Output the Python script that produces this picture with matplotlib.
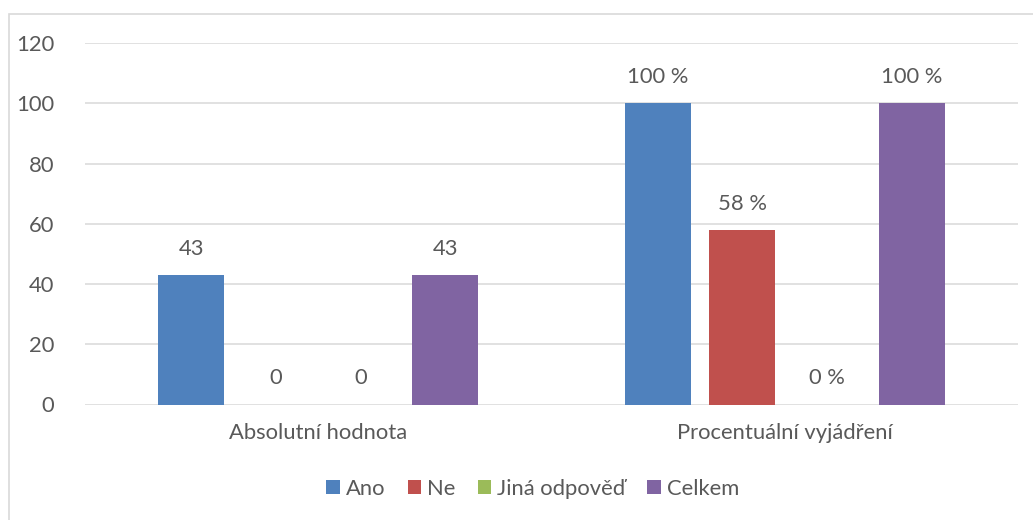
import matplotlib.pyplot as plt
import numpy as np
from matplotlib.patches import Rectangle

plt.rcParams['font.family'] = ['Lato', 'DejaVu Sans']

categories = ["Absolutní hodnota", "Procentuální vyjádření"]
series = ["Ano", "Ne", "Jiná odpověď", "Celkem"]
values = {
    "Ano": [43, 100],
    "Ne": [0, 58],
    "Jiná odpověď": [0, 0],
    "Celkem": [43, 100],
}
label_fmt = ["{:d}", "{:d} %"]
colors = ["#4F81BD", "#C0504D", "#9BBB59", "#8064A2"]
yticks = [0, 20, 40, 60, 80, 100, 120]

text_color = "#595959"
grid_color = "#D9D9D9"
fs = 15.8

fig = plt.figure(figsize=(10.33, 5.2), dpi=100)
ax = fig.add_axes([85 / 1033, 1 - 404.5 / 520, (1018 - 85) / 1033, (404.5 - 43) / 520])

# outer chart frame
fig.patches.append(Rectangle((8.5 / 1033, -0.1), 1.2, 1 - 13.5 / 520 + 0.1,
                             transform=fig.transFigure, fill=False,
                             edgecolor=grid_color, lw=1.2))

x = np.arange(len(categories))
step = 0.1815
width = 0.1415
for i, (name, color) in enumerate(zip(series, colors)):
    pos = x + (i - 1.5) * step
    vals = values[name]
    ax.bar(pos, vals, width=width, color=color, label=name, zorder=3)
    for px, v, fmt in zip(pos, vals, label_fmt):
        ax.annotate(fmt.format(v), (px, v), xytext=(0, 14.5),
                    textcoords="offset points", ha="center", va="baseline",
                    fontsize=fs, color=text_color)

ax.set_xlim(-0.5, 1.5)
ax.set_ylim(0, 120)
ax.set_yticks(yticks)
ax.set_xticks(x)
ax.set_xticklabels(categories)
ax.tick_params(axis="both", length=0, labelsize=fs, labelcolor=text_color)
ax.tick_params(axis="y", pad=22)
ax.tick_params(axis="x", pad=13)
ax.grid(axis="y", color=grid_color, lw=1.1, zorder=0)
for s in ax.spines.values():
    s.set_visible(False)

ax.legend(loc="center", bbox_to_anchor=(533 / 1033, 1 - 489 / 520),
          bbox_transform=fig.transFigure, ncol=4, frameon=False,
          handlelength=0.6, handleheight=0.6, handletextpad=0.3,
          columnspacing=1.0, fontsize=fs, labelcolor=text_color)

fig.savefig("out.png", dpi=100)
